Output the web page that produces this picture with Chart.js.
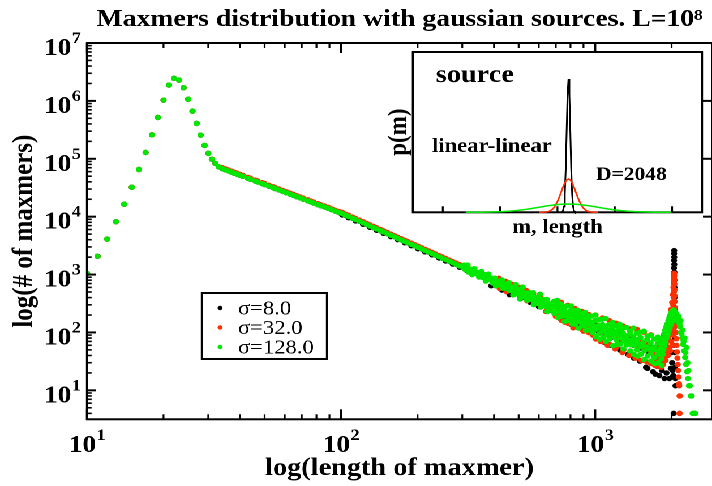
<!DOCTYPE html>
<html>
<head>
<meta charset="utf-8">
<script src="https://cdn.jsdelivr.net/npm/chart.js@4.4.1/dist/chart.umd.min.js"></script>
<style>
  html, body { margin: 0; padding: 0; background: #fff; overflow: hidden; }
  /* the reference is stretched horizontally, so draw narrow and scale */
  #wrap { position: relative; width: 633px; height: 486px; transform: scaleX(1.132); transform-origin: 0 0; }
  #inset { position: absolute; left: 335px; top: 40px; }
</style>
</head>
<body>
<div id="wrap">
  <canvas id="main" width="633" height="486"></canvas>
  <canvas id="inset" width="292" height="205"></canvas>
</div>
<script>
// ---- main plot data: maxmer length vs number of maxmers ----
const headLen = [10,11,12,13,14,15,16,17,18,19,20,21,22,23,24,25,26,27,28,29,30,31,32,33];
const headCnt = [1050,2070,4100,8200,16400,32300,65300,128500,259000,518000,1030000,1880000,
  2450000,2290000,1690000,1070000,667000,408000,256000,170000,124000,98500,83000,72500];

const tailLen = [
  34,35,36,37,38,39,40,41,
  43,44,46,47,49,50,52,54,55,57,59,61,63,65,
  67,69,71,74,76,78,81,83,86,89,92,95,98,
  101,104,107,111,114,118,122,126,130,134,138,143,
  147,152,157,162,167,172,178,183,189,195,201,
  208,214,221,228,235,243,250,258,266,275,284,293,
  302,312,322,332,343,354,365,377,389,401,414,427,441,
  455,470,485,500,516,533,550,567,585,604,623,643,664,685,
  707,730,753,777,802,828,854,882,910,939,969,
  1000,1032,1065,1099,1134,1170,1208,1246,1286,1327,1370,
  1413,1459,1505,1553,1603,1654,1707,1762,1818];

const tail8 = [
  67800,64600,61700,58900,56400,54100,51800,49800,
  46000,44300,41100,39700,37100,35900,33600,31600,30600,28900,27300,25800,24500,23300,
  22100,21100,20100,18800,18000,17200,16200,15500,14700,13900,13100,12400,11800,
  10700,10600,9600,9370,8450,8310,7400,7320,6540,6490,5820,5720,
  5150,5080,4520,4480,4010,3990,3540,3530,3150,3120,2790,
  2750,2470,2450,2190,2170,1930,1920,1720,1700,1520,1500,1340,
  1330,1190,1170,1050,1040,927,919,821,812,728,719,643,636,
  568,562,502,498,445,440,392,389,348,344,308,305,272,269,
  240,238,213,211,188,186,166,165,147,146,130,
  135,104,121,93,108,83,98,75,87,67,78,
  60,70,54,63,48,56,43,50,38];

const tail32 = [
  70500,67200,64200,61300,58700,56300,53900,51800,
  47900,46100,42800,41300,38600,37400,35000,32900,31800,30100,28400,26800,25500,24200,
  23000,21900,20900,19600,18700,17900,16800,16100,15300,14500,13600,12900,12300,
  11900,11100,10600,9840,9330,8730,8180,7690,7220,6810,6440,6010,
  5690,5330,5000,4700,4430,4190,3920,3710,3490,3280,3090,
  2890,2730,2570,2420,2280,2130,2020,1900,1790,1680,1580,1480,
  1400,1310,1230,1170,1090,1025,965,907,853,804,755,711,668,
  628,590,554,523,491,462,434,408,384,361,340,320,300,282,
  278,214,246,190,218,167,193,149,171,131,151,
  116,134,104,120,93,108,84,97,75,87,67,
  77,60,69,54,62,48,56,43,40];

const tail128 = [
  67800,64600,61700,58900,56400,54100,51800,49800,
  46000,44300,41100,39700,37100,35900,33600,31600,30600,28900,27300,25800,24500,23300,
  22100,21100,20100,18800,18000,17200,16200,15500,14700,13900,13100,12400,11800,
  11300,10600,10100,9370,8890,8310,7790,7320,6880,6490,6130,5720,
  5420,5080,4760,4480,4220,3990,3730,3530,3320,3120,2940,
  2750,2600,2450,2300,2170,2030,1920,1810,1700,1600,1500,1410,
  1330,1250,1170,1110,1040,976,919,864,812,766,719,677,636,
  598,562,528,498,468,440,413,389,366,344,324,305,286,269,
  253,238,224,211,198,186,175,165,155,146,137,
  129,122,115,109,103,98,93,88,83,79,74,
  70,67,63,60,56,53,51,48,45];

// scatter in the noisy part of the band, [length, count]
const blackLow = [[390,640],[430,540],[460,450],[510,390],[556,330],[600,280],[655,235],[700,200],
  [736,165],[760,160],[800,140],[857,125],[900,115],[950,100],[1000,85],[1080,68],[1150,60],
  [1250,50],[1346,42],[1420,36],[1500,32],[1586,25],[1608,24],[1650,30],[1690,21],[1728,19],
  [1760,26],[1790,18],[1830,22],[1875,16],[1910,20],[1960,16],[1985,24]];
const blackPeak = [[2000,45],[2010,30],[2020,22],[2030,18],[2035,60],[2038,4],[2040,100],[2041,250],
  [2042,400],[2043,700],[2044,950],[2045,1300],[2046,1750],[2047,2300],[2048,2600],[2049,2000],
  [2050,1500],[2051,1100],[2052,800],[2053,600],[2054,400],[2055,250],[2056,150],[2058,80],
  [2060,45],[2064,25],[2068,16],[2072,12]];

const redScatter = [[418,863],[421,575],[445,763],[448,509],[474,674],[477,450],[504,598],[507,398],
  [537,528],[540,352],[571,467],[574,311],[608,413],[611,275],[647,366],[650,244],[689,323],[692,215],
  [734,333],[737,162],[781,295],[784,143],[832,260],[835,126],[886,231],[889,112],[943,204],[946,99],
  [1004,200],[1007,77],[1069,178],[1072,69],[1138,160],[1141,62],[1212,144],[1215,56],[1290,129],
  [1293,50],[1374,115],[1377,45],[1463,113],[1466,37],[1557,101],[1560,33],[1658,91],[1661,29],
  [1766,81],[1769,26]];
const redLow = [[640,230],[700,190],[760,150],[820,120],[900,105],[980,90],[1050,70],[1120,60],
  [1200,52],[1280,45],[1360,40],[1440,36],[1520,33],[1600,31],[1680,29],[1720,27],[1760,35],
  [1780,28],[1790,40],[1815,25],[1835,33],[1855,28],[1875,38],[1895,33],[1915,45],[1935,40],
  [1955,55],[1975,48],[1995,70],[2015,60],[2035,90],[2045,120]];
const redFill = [[1705,40],[1712,31],[1724,46],[1736,34],[1748,52],[1757,38],[1772,44],[1784,58],
  [1796,36],[1806,62],[1819,42],[1826,70],[1838,48],[1846,78],[1858,55],[1866,88],[1878,60],
  [1886,98],[1898,66],[1906,110],[1918,75],[1926,125],[1938,82],[1946,140],[1958,95],[1966,160],
  [1978,105],[1986,180],[1998,115],[2006,210],[2012,130],[2022,260],[2028,150],[2032,330],
  [2036,180],[2039,400],[2041,230],[2043,500]];
const redPeak = [[1800,30],[1810,45],[1820,35],[1830,55],[1840,40],[1850,65],[1860,45],[1870,75],
  [1880,52],[1890,85],[1900,60],[1910,100],[1920,70],[1930,120],[1940,85],[1950,150],[1960,105],
  [1970,190],[1980,130],[1990,250],[2000,170],[2010,330],[2018,220],[2024,450],[2030,300],[2034,600],
  [2038,420],[2040,750],[2042,560],[2044,900],[2046,700],[2047,1000],[2048,1050],[2049,950],
  [2050,820],[2052,680],[2054,540],[2056,430],[2058,340],[2062,270],[2066,210],[2070,165],[2076,130],
  [2082,100],[2088,78],[2094,60],[2100,46],[2108,36],[2116,28],[2124,22],[2132,17],[2140,13],
  [2144,12],[2146,4],[2150,8],[2152,4],[2156,8]];

const greenScatter = [
  [305,1460],[308,1220],[315,1460],[318,1100],[325,1240],[328,995],[335,1265],[338,1045],[346,1080],
  [349,905],[357,1130],[360,890],[368,1000],[371,772],[380,1020],[383,820],[392,870],[395,715],
  [404,865],[407,636],[417,755],[420,661],[430,805],[433,582],[444,693],[447,572],
  [458,724],[461,556],[473,607],[476,444],[488,670],[491,465],[503,558],[506,378],[519,608],[522,426],
  [536,466],[539,361],[553,487],[556,392],[570,486],[573,303],[588,403],[591,318],[607,458],[610,275],
  [626,373],[629,301],[646,372],[649,229],[667,306],[670,243],[688,344],[691,215],
  [456,650],[460,535],[471,600],[475,505],[486,570],[490,470],[501,540],[505,455],[517,500],[521,425],
  [534,480],[538,395],[551,445],[555,375],[568,420],[572,350],[586,395],[590,330],[605,375],[609,310],
  [624,350],[628,292],[644,335],[648,272],[665,312],[669,258],[686,292],[690,240],
  [708,299],[710,357],[713,182],[716,228],[731,255],[733,309],[736,190],[739,224],[754,280],[756,251],
  [759,155],[762,193],[778,287],[780,222],[783,162],[786,194],[803,238],[805,287],[808,164],[811,141],
  [829,205],[831,240],[834,167],[837,138],[855,242],[857,201],[860,119],[863,154],[883,172],[885,210],
  [888,130],[891,153],[911,189],[913,223],[916,132],[919,109],[940,164],[942,194],[945,111],[948,139],
  [970,192],[972,149],[975,119],[978,99],
  [1001,161],[1003,200],[1006,85],[1010,114],[1033,134],[1035,168],[1038,95],[1042,76],[1066,170],
  [1068,138],[1071,104],[1075,81],[1100,125],[1102,174],[1105,70],[1109,90],[1135,137],[1137,111],
  [1140,77],[1144,96],[1171,149],[1173,122],[1176,59],[1180,84],[1209,104],[1211,130],[1214,74],
  [1218,62],[1247,114],[1249,139],[1252,81],[1256,63],[1287,98],[1289,120],[1292,52],[1296,71],
  [1328,122],[1330,87],[1333,61],[1337,71],[1371,93],[1373,105],[1376,48],[1380,61],
  [1414,84],[1416,119],[1419,42],[1423,60],[1460,97],[1462,75],[1465,50],[1469,39],[1506,101],
  [1508,82],[1511,57],[1515,42],[1554,69],[1556,105],[1559,34],[1563,48],[1604,77],[1606,87],
  [1609,39],[1613,52],[1655,66],[1657,89],[1660,32],[1664,44],[1708,77],[1710,56],[1713,37],
  [1717,29],[1763,65],[1765,83],[1768,42],[1772,30],[1819,54],[1821,72],[1824,35],[1828,27]];
const greenPeak = [[1840,60],[1846,42],[1852,80],[1858,50],[1864,66],[1870,95],[1876,58],[1882,75],
  [1888,110],[1894,68],[1900,88],[1906,125],[1912,80],[1918,100],[1924,140],[1930,92],[1936,115],
  [1942,160],[1948,105],[1954,130],[1960,180],[1966,120],[1972,150],[1978,200],[1984,135],[1990,170],
  [1996,220],[2002,150],[2008,190],[2014,235],[2020,165],[2026,210],[2032,245],[2038,180],[2044,225],
  [2048,240],[2052,200],[2060,230],[2070,190],[2080,215],[2090,170],[2100,200],[2110,160],[2120,175],
  [2130,190],[2140,150],[2150,140],[2160,125],[2170,160],[2180,100],[2190,95],[2200,80],[2210,110],
  [2220,62],[2230,70],[2240,48],[2250,80],[2260,37],[2270,45],[2280,28],[2290,55],[2300,21],
  [2310,30],[2320,16],[2330,22],[2340,12],[2360,12],[2380,8],[2400,8],[2420,4],[2440,4],[2460,4],[2480,4]];

const seriesLabels = ['σ=8.0', 'σ=32.0', 'σ=128.0'];
const xMajor = [10, 100, 1000];
const yMajor = [10, 100, 1000, 10000, 100000, 1000000, 10000000];

// ---- inset data: gaussian source distributions ----
const srcM8 = [2016,2020,2024,2028,2032,2036,2040,2044,2048,2052,2056,2060,2064,2068,2072,2076,2080];
const srcP8 = [0.00002,0.00011,0.00055,0.00219,0.00675,0.0162,0.0303,0.0440,0.0499,
  0.0440,0.0303,0.0162,0.00675,0.00219,0.00055,0.00011,0.00002];
const srcM32 = [1920,1936,1952,1960,1968,1976,1984,1992,2000,2008,2016,2024,2032,2040,2048,
  2056,2064,2072,2080,2088,2096,2104,2112,2120,2128,2136,2144,2160,2176];
const srcP32 = [0,0.00003,0.00014,0.00028,0.00055,0.00099,0.00169,0.0027,0.00405,0.00571,0.00756,
  0.00941,0.0110,0.01209,0.01247,0.01209,0.0110,0.00941,0.00756,0.00571,0.00405,0.0027,0.00169,
  0.00099,0.00055,0.00028,0.00014,0.00003,0];
const srcM128 = [1600,1664,1696,1728,1760,1792,1824,1856,1888,1920,1952,1984,2016,2048,2080,
  2112,2144,2176,2208,2240,2272,2304,2336,2368,2400,2432,2496];
const srcP128 = [0.000007,0.000035,0.00007,0.000137,0.00025,0.00042,0.00067,0.00101,0.00143,
  0.00189,0.00235,0.00275,0.00302,0.00312,0.00302,0.00275,0.00235,0.00189,0.00143,0.00101,
  0.00067,0.00042,0.00025,0.000137,0.00007,0.000035,0.000007];
const srcTicks = [1500, 1750, 2000, 2250, 2500];

const SERIF = '"Liberation Serif", "Times New Roman", serif';
const BLACK = '#000000', RED = '#ff3000', GREEN = '#00e800';
const DOT = 2.7;
Chart.defaults.color = '#000';

function toPoints(xs, ys) { return xs.map((x, i) => ({ x: x, y: ys[i] })); }
function fromPairs(list) { return list.map(p => ({ x: p[0], y: p[1] })); }
function series(tail, extra) {
  return toPoints(headLen, headCnt).concat(toPoints(tailLen, tail), fromPairs(extra));
}

function minorTicks(lo, hi) {
  const out = [];
  for (let d = 1; d <= hi; d *= 10) {
    for (let k = 2; k <= 9; k++) {
      const v = k * d;
      if (v > lo && v < hi) out.push(v);
    }
  }
  return out;
}

// "10" with a raised exponent
function drawPow(ctx, v, x, y, align) {
  const e = String(Math.round(Math.log10(v)));
  ctx.font = 'bold 24px ' + SERIF;
  const wb = ctx.measureText('10').width;
  ctx.font = 'bold 16px ' + SERIF;
  const ws = ctx.measureText(e).width;
  const left = align === 'center' ? x - (wb + ws) / 2 : x - wb - ws;
  ctx.textAlign = 'left';
  ctx.textBaseline = 'alphabetic';
  ctx.font = 'bold 24px ' + SERIF;
  ctx.fillText('10', left, y);
  ctx.font = 'bold 16px ' + SERIF;
  ctx.fillText(e, left + wb + 0.5, y - 12);
}

function line(ctx, x1, y1, x2, y2) {
  ctx.beginPath(); ctx.moveTo(x1, y1); ctx.lineTo(x2, y2); ctx.stroke();
}

const mainAxes = {
  id: 'mainAxes',
  afterDraw(chart) {
    const { ctx, chartArea: a, scales: { x, y } } = chart;
    ctx.save();
    ctx.strokeStyle = '#000';
    ctx.fillStyle = '#000';
    ctx.lineWidth = 2;
    ctx.strokeRect(a.left, a.top, a.right - a.left, a.bottom - a.top);

    ctx.lineWidth = 1.6;
    minorTicks(x.min, x.max).forEach(v => {
      const px = x.getPixelForValue(v);
      line(ctx, px, a.bottom, px, a.bottom - 5);
      line(ctx, px, a.top, px, a.top + 5);
    });
    minorTicks(y.min, y.max).forEach(v => {
      const py = y.getPixelForValue(v);
      line(ctx, a.left, py, a.left + 4, py);
    });
    ctx.lineWidth = 2;
    xMajor.forEach(v => {
      const px = x.getPixelForValue(v);
      line(ctx, px, a.bottom, px, a.bottom - 10);
      line(ctx, px, a.top, px, a.top + 10);
      drawPow(ctx, v, px, 452, 'center');
    });
    yMajor.forEach(v => {
      const py = y.getPixelForValue(v);
      line(ctx, a.left, py, a.left + 8, py);
      line(ctx, a.right, py, a.right - 8, py);
      drawPow(ctx, v, 71, py + 12, 'right');
    });

    // legend box
    const lx = 178.4, ly = 293, lw = 110.5, lh = 66;
    ctx.fillStyle = '#fff';
    ctx.fillRect(lx, ly, lw, lh);
    ctx.lineWidth = 2;
    ctx.strokeRect(lx, ly, lw, lh);
    chart.data.datasets.forEach((ds, i) => {
      const cy = ly + 15 + i * 19.5;
      ctx.fillStyle = ds.backgroundColor;
      ctx.beginPath();
      ctx.arc(lx + 16, cy, 2.2, 0, Math.PI * 2);
      ctx.fill();
      ctx.fillStyle = '#000';
      ctx.font = '20px ' + SERIF;
      ctx.textAlign = 'left';
      ctx.textBaseline = 'middle';
      ctx.fillText(ds.label, lx + 31.8, cy + 1);
    });
    ctx.restore();
  }
};

new Chart(document.getElementById('main'), {
  type: 'scatter',
  data: {
    datasets: [
      { label: seriesLabels[0], data: series(tail8, blackLow.concat(blackPeak)),
        backgroundColor: BLACK, borderColor: BLACK, pointRadius: DOT, pointBorderWidth: 0, order: 3 },
      { label: seriesLabels[1], data: series(tail32, redScatter.concat(redLow, redFill, redPeak)),
        backgroundColor: RED, borderColor: RED, pointRadius: DOT, pointBorderWidth: 0, order: 2 },
      { label: seriesLabels[2], data: series(tail128, greenScatter.concat(greenPeak)),
        backgroundColor: GREEN, borderColor: GREEN, pointRadius: DOT, pointBorderWidth: 0, order: 1 }
    ]
  },
  options: {
    responsive: false,
    animation: false,
    devicePixelRatio: 2,
    events: [],
    layout: { padding: { right: 1.8 } },
    plugins: {
      legend: { display: false },
      tooltip: { enabled: false },
      title: {
        display: true,
        fullSize: false,
        text: 'Maxmers distribution with gaussian sources. L=10⁸',
        color: '#000',
        font: { family: SERIF, size: 24.5, weight: 'bold' },
        padding: { top: 5.2, bottom: 8.4 }
      }
    },
    scales: {
      x: {
        type: 'logarithmic', min: 10, max: 2886,
        grid: { display: false }, border: { display: false },
        ticks: { display: false },
        title: { display: true, text: 'log(length of maxmer)', color: '#000',
          font: { family: SERIF, size: 25, weight: 'bold' }, padding: { top: 0, bottom: 2.7 } },
        afterFit(scale) { scale.height = 66.7; }
      },
      y: {
        type: 'logarithmic', min: 3.16, max: 1e7,
        grid: { display: false }, border: { display: false },
        ticks: { display: false },
        title: { display: true, text: 'log(# of maxmers)', color: '#000',
          font: { family: SERIF, size: 25, weight: 'bold' }, padding: { top: 6.6, bottom: 0 } },
        afterFit(scale) { scale.width = 76.9; }
      }
    }
  },
  plugins: [mainAxes]
});

// ---- inset ----
const insetFrame = {
  id: 'insetFrame',
  beforeDatasetsDraw(chart) {
    const { ctx, chartArea: a, scales: { x } } = chart;
    ctx.save();
    ctx.fillStyle = '#fff';
    ctx.fillRect(a.left, a.top, a.right - a.left, a.bottom - a.top);
    ctx.strokeStyle = '#000';
    ctx.lineWidth = 2;
    ctx.strokeRect(a.left, a.top, a.right - a.left, a.bottom - a.top);
    ctx.lineWidth = 1.6;
    srcTicks.forEach(v => {
      const px = x.getPixelForValue(v);
      line(ctx, px, a.bottom, px, a.bottom - 6);
    });
    ctx.restore();
  },
  afterDraw(chart) {
    const { ctx, chartArea: a } = chart;
    ctx.save();
    ctx.fillStyle = '#000';
    ctx.textBaseline = 'alphabetic';
    ctx.textAlign = 'left';
    ctx.font = 'bold 25px ' + SERIF;
    ctx.fillText('source', 50, 42);
    ctx.font = 'bold 20px ' + SERIF;
    ctx.fillText('linear-linear', 46.6, 112);
    ctx.font = 'bold 19px ' + SERIF;
    ctx.fillText('D=2048', 191.5, 140);
    ctx.font = 'bold 20px ' + SERIF;
    ctx.textAlign = 'center';
    ctx.fillText('m, length', (a.left + a.right) / 2, 193);
    ctx.translate(17.5, (a.top + a.bottom) / 2);
    ctx.rotate(-Math.PI / 2);
    ctx.font = 'bold 23px ' + SERIF;
    ctx.textBaseline = 'middle';
    ctx.fillText('p(m)', 0, 0);
    ctx.restore();
  }
};

new Chart(document.getElementById('inset'), {
  type: 'scatter',
  data: {
    datasets: [
      { data: toPoints(srcM128, srcP128), showLine: true, borderColor: GREEN, borderWidth: 1.5,
        pointRadius: 0, clip: false },
      { data: toPoints(srcM32, srcP32), showLine: true, borderColor: RED, borderWidth: 1.5,
        pointRadius: 0, clip: false },
      { data: toPoints(srcM8, srcP8), showLine: true, borderColor: BLACK, borderWidth: 1.5,
        pointRadius: 0, clip: false }
    ]
  },
  options: {
    responsive: false,
    animation: false,
    devicePixelRatio: 2,
    events: [],
    layout: { padding: { left: 29.8, right: 6.9, top: 12, bottom: 32.7 } },
    plugins: { legend: { display: false }, tooltip: { enabled: false } },
    scales: {
      x: { type: 'linear', min: 1370, max: 2630, display: false },
      y: { type: 'linear', min: 0, max: 0.06, display: false }
    }
  },
  plugins: [insetFrame]
});
</script>
</body>
</html>
